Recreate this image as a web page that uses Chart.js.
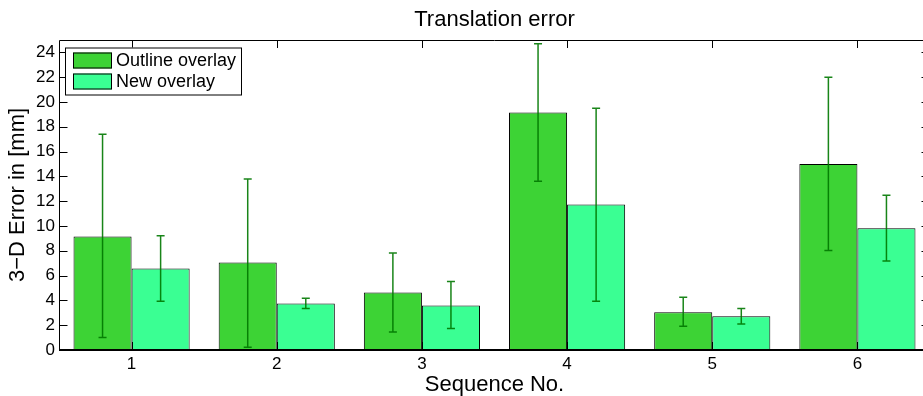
<!DOCTYPE html>
<html>
<head>
<meta charset="utf-8">
<script src="https://cdn.jsdelivr.net/npm/chart.js@4.4.1/dist/chart.umd.min.js"></script>
<style>
  html, body { margin: 0; padding: 0; background: #fff; overflow: hidden; }
  #wrap { width: 923px; height: 396px; overflow: hidden; }
</style>
</head>
<body>
<div id="wrap"><canvas id="chart" width="931" height="396"></canvas></div>
<script>
// data
const sequences = ['1', '2', '3', '4', '5', '6'];
const outlineMean = [9.15, 7.05, 4.63, 19.15, 3.05, 15.0];
const outlineLow  = [1.0, 0.22, 1.46, 13.6, 1.92, 8.03];
const outlineHigh = [17.4, 13.8, 7.82, 24.7, 4.26, 22.0];
const newMean = [6.58, 3.75, 3.59, 11.73, 2.72, 9.81];
const newLow  = [3.94, 3.34, 1.73, 3.94, 2.1, 7.17];
const newHigh = [9.22, 4.18, 5.53, 19.5, 3.34, 12.48];
const yTicks = [0, 2, 4, 6, 8, 10, 12, 14, 16, 18, 20, 22, 24];

const FONT = "'Liberation Sans', Arial, Helvetica, sans-serif";
const GREEN = '#3dd335';
const CYAN = '#3aff93';
const ERR = 'rgba(0,120,0,0.9)';

// error bars, box, inward ticks, title and legend
const matlabLook = {
  id: 'matlabLook',
  afterDatasetsDraw(chart) {
    const ctx = chart.ctx;
    const y = chart.scales.y;
    ctx.save();
    ctx.strokeStyle = ERR;
    ctx.lineWidth = 1.5;
    chart.data.datasets.forEach((ds, di) => {
      const meta = chart.getDatasetMeta(di);
      meta.data.forEach((bar, i) => {
        const x = bar.x;
        const top = y.getPixelForValue(ds.errHigh[i]);
        const bot = y.getPixelForValue(ds.errLow[i]);
        ctx.beginPath();
        ctx.moveTo(x, top); ctx.lineTo(x, bot);
        ctx.moveTo(x - 4, top); ctx.lineTo(x + 4, top);
        ctx.moveTo(x - 4, bot); ctx.lineTo(x + 4, bot);
        ctx.stroke();
      });
    });
    ctx.restore();
  },
  afterDraw(chart) {
    const ctx = chart.ctx;
    const a = chart.chartArea;
    const xs = chart.scales.x, ys = chart.scales.y;
    ctx.save();
    ctx.strokeStyle = '#000';
    ctx.lineWidth = 1;
    // box
    ctx.beginPath();
    ctx.moveTo(a.left + 0.5, a.top + 0.5);
    ctx.lineTo(a.right - 0.5, a.top + 0.5);
    ctx.lineTo(a.right - 0.5, a.bottom);
    ctx.moveTo(a.left + 0.5, a.top + 0.5);
    ctx.lineTo(a.left + 0.5, a.bottom);
    ctx.stroke();
    ctx.lineWidth = 2;
    ctx.beginPath();
    ctx.moveTo(a.left, a.bottom);
    ctx.lineTo(a.right, a.bottom);
    ctx.stroke();
    // inward ticks
    ctx.lineWidth = 1;
    ctx.beginPath();
    yTicks.forEach(v => {
      const py = Math.round(ys.getPixelForValue(v)) + 0.5;
      ctx.moveTo(a.left, py); ctx.lineTo(a.left + 8.5, py);
      ctx.moveTo(a.right, py); ctx.lineTo(a.right - 8.5, py);
    });
    sequences.forEach((s, i) => {
      const px = Math.round(xs.getPixelForValue(i)) + 0.5;
      ctx.moveTo(px, a.top); ctx.lineTo(px, a.top + 8);
      ctx.moveTo(px, a.bottom); ctx.lineTo(px, a.bottom - 8);
    });
    ctx.stroke();
    // title
    ctx.fillStyle = '#000';
    ctx.font = '22px ' + FONT;
    ctx.textAlign = 'center';
    ctx.textBaseline = 'alphabetic';
    ctx.fillText('Translation error', (a.left + a.right) / 2, 26);
    // legend
    const lx = a.left + 6, ly = a.top + 7.5;
    ctx.fillStyle = '#fff';
    ctx.fillRect(lx, ly, 176, 47);
    ctx.strokeRect(lx + 0.5, ly + 0.5, 176, 47);
    ctx.font = '18px ' + FONT;
    ctx.textAlign = 'left';
    ctx.textBaseline = 'middle';
    chart.data.datasets.forEach((ds, di) => {
      const sy = ly + 5 + di * 21;
      ctx.fillStyle = ds.backgroundColor;
      ctx.fillRect(lx + 8, sy, 39, 16);
      ctx.strokeRect(lx + 8.5, sy + 0.5, 38, 15);
      ctx.fillStyle = '#000';
      ctx.fillText(ds.label, lx + 51, sy + 8.5);
    });
    ctx.restore();
  }
};

new Chart(document.getElementById('chart'), {
  type: 'bar',
  data: {
    labels: sequences,
    datasets: [
      {
        label: 'Outline overlay',
        data: outlineMean,
        errLow: outlineLow,
        errHigh: outlineHigh,
        backgroundColor: GREEN,
        borderColor: '#000',
        borderWidth: 1,
        borderSkipped: false
      },
      {
        label: 'New overlay',
        data: newMean,
        errLow: newLow,
        errHigh: newHigh,
        backgroundColor: CYAN,
        borderColor: '#000',
        borderWidth: 1,
        borderSkipped: false
      }
    ]
  },
  options: {
    responsive: false,
    animation: false,
    layout: { padding: { top: 40, right: 1, left: 0, bottom: 0 } },
    datasets: { bar: { categoryPercentage: 0.8, barPercentage: 1.0 } },
    scales: {
      x: {
        afterFit: s => { s.height = 46; },
        grid: { display: false, drawTicks: false },
        border: { display: false },
        ticks: { color: '#000', font: { family: FONT, size: 17 }, padding: 4.3, maxRotation: 0 },
        title: {
          display: true,
          text: 'Sequence No.',
          color: '#000',
          font: { family: FONT, size: 22, lineHeight: 1 },
          padding: { top: 0, bottom: 0 }
        }
      },
      y: {
        min: 0,
        max: 25,
        afterBuildTicks: s => { s.ticks = yTicks.map(v => ({ value: v })); },
        afterFit: s => { s.width = 59; },
        grid: { display: false, drawTicks: false },
        border: { display: false },
        ticks: { color: '#000', font: { family: FONT, size: 17 }, padding: 4 },
        title: {
          display: true,
          text: '3−D Error in [mm]',
          color: '#000',
          font: { family: FONT, size: 22, lineHeight: 1 },
          padding: { top: 7.4, bottom: 0 }
        }
      }
    },
    plugins: {
      legend: { display: false },
      tooltip: { enabled: false }
    }
  },
  plugins: [matlabLook]
});
</script>
</body>
</html>
